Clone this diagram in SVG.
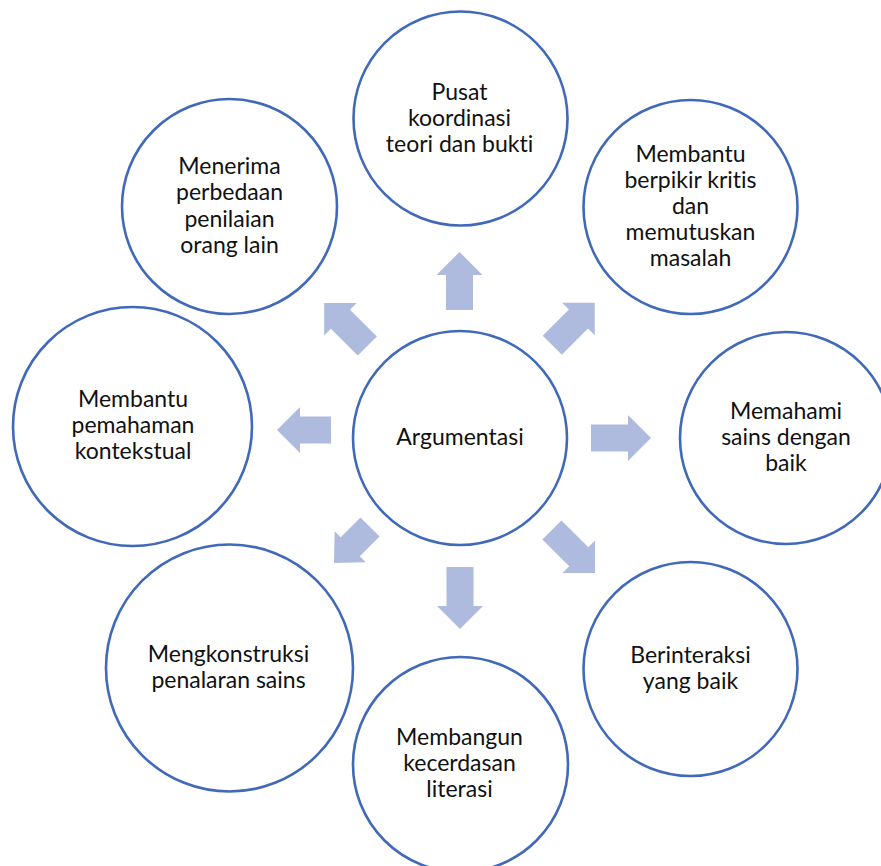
<svg xmlns="http://www.w3.org/2000/svg" width="881" height="866" viewBox="0 0 881 866">
<style>
.c{fill:#fff;stroke:#4169b9;stroke-width:2.6}
.t{font-family:Lato,"Open Sans","Liberation Sans",sans-serif;font-size:23px;fill:#111;text-anchor:middle;font-variant-ligatures:none;font-feature-settings:"liga" 0,"clig" 0}
.a{fill:#aebbde}
</style>
<rect width="881" height="866" fill="#fff"/>
<g id="connectors">
<path class="a" transform="translate(459.5,281) rotate(-90)" d="M-29,-13.5H6V-23L29,0L6,23V13.5H-29Z"/>
<path class="a" transform="translate(573.5,324) rotate(-45)" d="M-30,-13.5H7V-23L30,0L7,23V13.5H-30Z"/>
<path class="a" transform="translate(621,438)" d="M-30,-13.5H7V-23L30,0L7,23V13.5H-30Z"/>
<path class="a" transform="translate(573.5,551.5) rotate(45)" d="M-30.5,-13.5H7.5V-23L30.5,0L7.5,23V13.5H-30.5Z"/>
<path class="a" transform="translate(460,598) rotate(90)" d="M-31,-13.5H8V-23L31,0L8,23V13.5H-31Z"/>
<path class="a" transform="translate(352,545) rotate(135)" d="M-25.5,-13.5H2.5V-22L25.5,0L2.5,22V13.5H-25.5Z"/>
<path class="a" transform="translate(304,430) rotate(180)" d="M-27,-13.5H4V-23L27,0L4,23V13.5H-27Z"/>
<path class="a" transform="translate(345.75,324.5) rotate(-135)" d="M-30.5,-13.5H7.5V-23L30.5,0L7.5,23V13.5H-30.5Z"/>
</g>
<g id="n-center"><circle class="c" cx="460" cy="438" r="107"/><text class="t" x="460" y="445">Argumentasi</text></g>
<g id="n-top"><circle class="c" cx="460.5" cy="118.5" r="107"/><text class="t" x="459.5" y="100">Pusat</text><text class="t" x="459.5" y="126">koordinasi</text><text class="t" x="459.5" y="152">teori dan bukti</text></g>
<g id="n-topright"><circle class="c" cx="690.5" cy="207" r="107"/><text class="t" x="690.5" y="162">Membantu</text><text class="t" x="690.5" y="188">berpikir kritis</text><text class="t" x="690.5" y="214">dan</text><text class="t" x="690.5" y="240">memutuskan</text><text class="t" x="690.5" y="266">masalah</text></g>
<g id="n-right"><circle class="c" cx="786" cy="438" r="106"/><text class="t" x="786" y="419">Memahami</text><text class="t" x="786" y="445">sains dengan</text><text class="t" x="786" y="471">baik</text></g>
<g id="n-bottomright"><circle class="c" cx="690.5" cy="669" r="107"/><text class="t" x="690.5" y="663">Berinteraksi</text><text class="t" x="690.5" y="689">yang baik</text></g>
<g id="n-bottom"><circle class="c" cx="460.5" cy="764.5" r="107.5"/><text class="t" x="459.5" y="745">Membangun</text><text class="t" x="459.5" y="771">kecerdasan</text><text class="t" x="459.5" y="797">literasi</text></g>
<g id="n-bottomleft"><circle class="c" cx="229.5" cy="668" r="123.5"/><text class="t" x="228.5" y="662">Mengkonstruksi</text><text class="t" x="228.5" y="688">penalaran sains</text></g>
<g id="n-left"><circle class="c" cx="132.5" cy="426.5" r="119.5"/><text class="t" x="133" y="407">Membantu</text><text class="t" x="133" y="433">pemahaman</text><text class="t" x="133" y="459">kontekstual</text></g>
<g id="n-topleft"><circle class="c" cx="229.5" cy="206.5" r="107.5"/><text class="t" x="229.5" y="174">Menerima</text><text class="t" x="229.5" y="200">perbedaan</text><text class="t" x="229.5" y="227">penilaian</text><text class="t" x="229.5" y="253">orang lain</text></g>
</svg>
